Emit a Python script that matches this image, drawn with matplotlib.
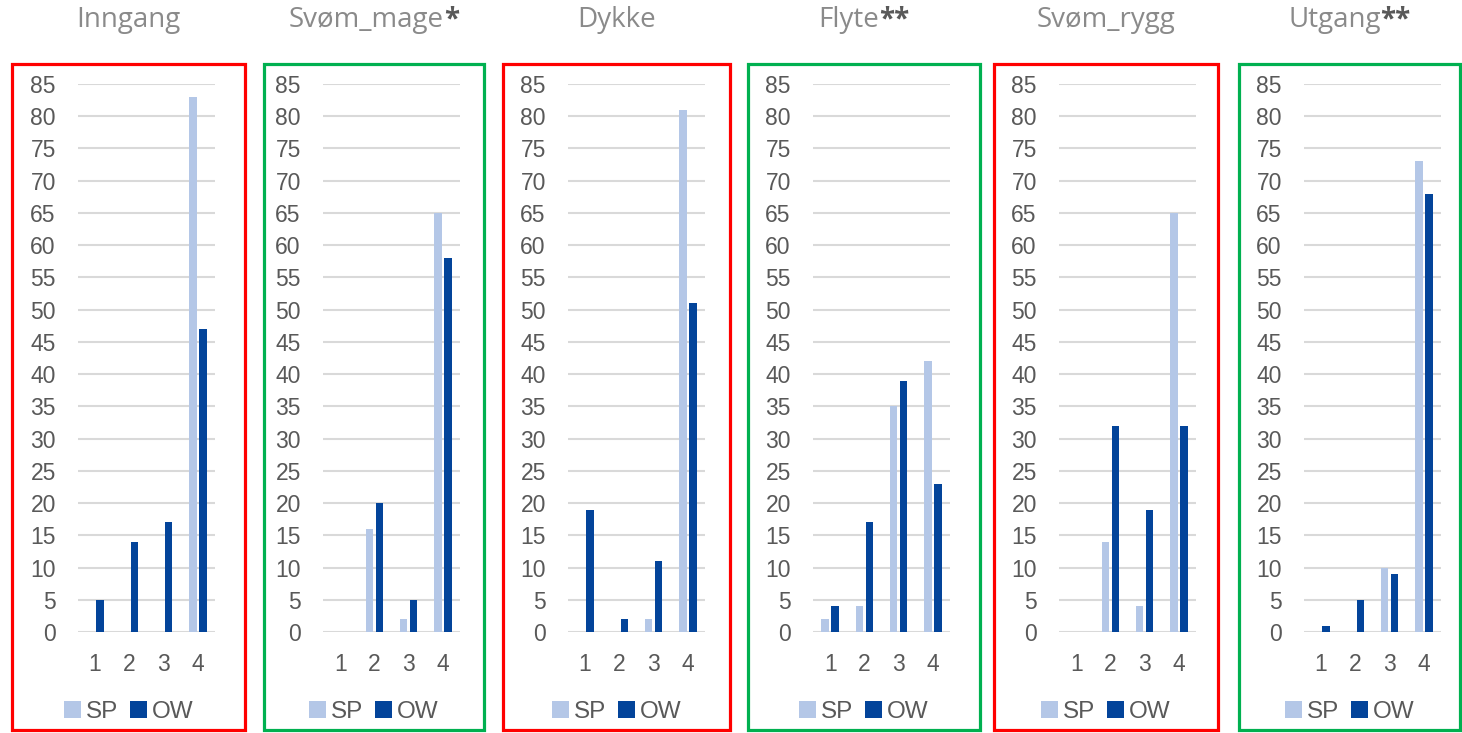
import matplotlib
matplotlib.use("Agg")
import matplotlib.pyplot as plt
from matplotlib.patches import Rectangle
import numpy as np

# Øvelser og fordeling av skår (1-4) for SP og OW
ovelser = ["Inngang", "Svøm_mage", "Dykke", "Flyte", "Svøm_rygg", "Utgang"]
stjerner = ["", "*", "", "**", "", "**"]
boks_farger = ["#FF0000", "#00B050", "#FF0000", "#00B050", "#FF0000", "#00B050"]
kategorier = [1, 2, 3, 4]

sp_inngang = [0, 0, 0, 83]
ow_inngang = [5, 14, 17, 47]
sp_svom_mage = [0, 16, 2, 65]
ow_svom_mage = [0, 20, 5, 58]
sp_dykke = [0, 0, 2, 81]
ow_dykke = [19, 2, 11, 51]
sp_flyte = [2, 4, 35, 42]
ow_flyte = [4, 17, 39, 23]
sp_svom_rygg = [0, 14, 4, 65]
ow_svom_rygg = [0, 32, 19, 32]
sp_utgang = [0, 0, 10, 73]
ow_utgang = [1, 5, 9, 68]

sp_alle = [sp_inngang, sp_svom_mage, sp_dykke, sp_flyte, sp_svom_rygg, sp_utgang]
ow_alle = [ow_inngang, ow_svom_mage, ow_dykke, ow_flyte, ow_svom_rygg, ow_utgang]

W, H = 1462, 733
fig = plt.figure(figsize=(W / 100, H / 100), dpi=100)

# posisjoner i piksler: (boks venstre, boks høyre, plot venstre, plot høyre)
bokser = [(12, 245, 78, 215), (264, 484, 323, 460), (503, 730, 568, 705),
          (748, 980, 813, 950), (994, 1218, 1059, 1196), (1239, 1460, 1304, 1441)]
y_null, y_topp = 632, 84

sp_farge = "#B4C7E7"
ow_farge = "#03449A"
tekst_farge = "#595959"

titler = []
for i, navn in enumerate(ovelser):
    bx0, bx1, px0, px1 = bokser[i]
    ax = fig.add_axes([px0 / W, (H - y_null) / H, (px1 - px0) / W, (y_null - y_topp) / H])
    x = np.array(kategorier)
    ax.bar(x - 0.145, sp_alle[i], width=0.22, color=sp_farge, label="SP", zorder=3)
    ax.bar(x + 0.145, ow_alle[i], width=0.22, color=ow_farge, label="OW", zorder=3)
    ax.set_xlim(0.5, 4.5)
    ax.set_ylim(0, 85)
    ax.set_yticks(range(0, 86, 5))
    ax.set_xticks(kategorier)
    ax.grid(axis="y", color="#D9D9D9", linewidth=1.5, zorder=0)
    for s in ax.spines.values():
        s.set_visible(False)
    ax.tick_params(length=0, labelsize=16.5, labelcolor=tekst_farge)
    ax.tick_params(axis="y", pad=16)
    ax.tick_params(axis="x", pad=15)
    for lbl in ax.get_xticklabels() + ax.get_yticklabels():
        lbl.set_family("Liberation Sans")

    leg = ax.legend(loc="center", bbox_to_anchor=((bx0 + bx1) / 2 / W, (H - 712) / H),
                    bbox_transform=fig.transFigure, ncol=2, frameon=False,
                    handlelength=0.7, handleheight=0.7, handletextpad=0.2,
                    columnspacing=0.5, prop={"family": "Liberation Sans", "size": 17.5})
    for t in leg.get_texts():
        t.set_color(tekst_farge)

    # ramme rundt hvert panel
    fig.patches.append(Rectangle((bx0 / W, 3 / H), (bx1 - bx0) / W, (H - 67) / H,
                                 transform=fig.transFigure, fill=False,
                                 edgecolor=boks_farger[i], linewidth=2.3))

    t = fig.text((bx0 + bx1) / 2 / W, (H - 20) / H, navn, ha="center", va="center",
                 fontsize=20, color="#8A8A8A", family="Open Sans")
    titler.append(t)

# stjernene settes rett etter tittelen, og helheten sentreres
fig.canvas.draw()
r = fig.canvas.get_renderer()
for t, st in zip(titler, stjerner):
    if not st:
        continue
    bb = t.get_window_extent(r)
    s = fig.text(bb.x1 / W, (H - 20) / H, st, ha="left", va="center",
                 fontsize=20, color=tekst_farge, family="Open Sans", fontweight="bold")
    sb = s.get_window_extent(r)
    dx = sb.width / 2 / W
    tx, ty = t.get_position()
    t.set_position((tx - dx, ty))
    sx, sy = s.get_position()
    s.set_position((sx - dx, sy))

fig.savefig("out.png", dpi=100)
